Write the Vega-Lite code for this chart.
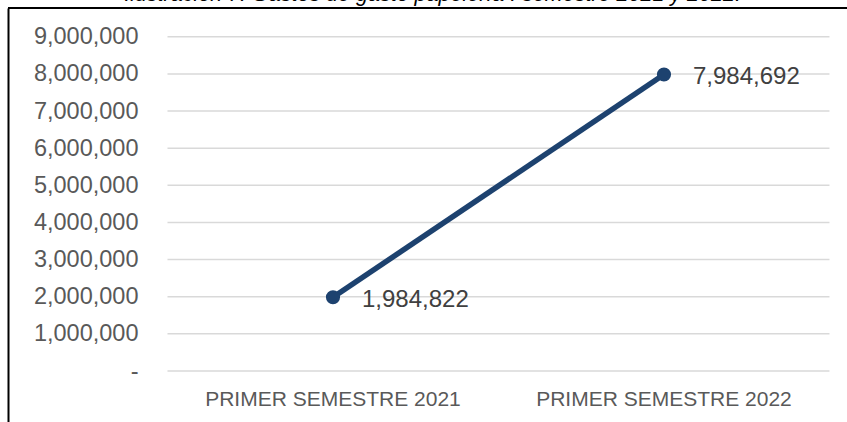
{
  "$schema": "https://vega.github.io/schema/vega-lite/v6.json",
  "width": 839,
  "height": 414,
  "autosize": {"type": "none"},
  "padding": {"left": 8, "top": 8, "right": 0, "bottom": 0},
  "background": "white",
  "title": {
    "text": "Ilustración 7. Gastos de gasto papelería I semestre 2021 y 2022.",
    "font": "Liberation Sans",
    "fontSize": 21.5,
    "fontStyle": "italic",
    "fontWeight": "normal",
    "color": "#000000",
    "anchor": "middle",
    "baseline": "alphabetic",
    "offset": 0,
    "dy": 15,
    "dx": 5
  },
  "config": {"view": {"stroke": null}, "font": "Liberation Sans"},
  "layer": [
    {
      "data": {"values": [
        {"v": 0, "a": "PRIMER SEMESTRE 2021", "b": "PRIMER SEMESTRE 2022"},
        {"v": 1000000, "a": "PRIMER SEMESTRE 2021", "b": "PRIMER SEMESTRE 2022"},
        {"v": 2000000, "a": "PRIMER SEMESTRE 2021", "b": "PRIMER SEMESTRE 2022"},
        {"v": 3000000, "a": "PRIMER SEMESTRE 2021", "b": "PRIMER SEMESTRE 2022"},
        {"v": 4000000, "a": "PRIMER SEMESTRE 2021", "b": "PRIMER SEMESTRE 2022"},
        {"v": 5000000, "a": "PRIMER SEMESTRE 2021", "b": "PRIMER SEMESTRE 2022"},
        {"v": 6000000, "a": "PRIMER SEMESTRE 2021", "b": "PRIMER SEMESTRE 2022"},
        {"v": 7000000, "a": "PRIMER SEMESTRE 2021", "b": "PRIMER SEMESTRE 2022"},
        {"v": 8000000, "a": "PRIMER SEMESTRE 2021", "b": "PRIMER SEMESTRE 2022"},
        {"v": 9000000, "a": "PRIMER SEMESTRE 2021", "b": "PRIMER SEMESTRE 2022"}
      ]},
      "mark": {"type": "rule", "color": "#d9d9d9", "strokeWidth": 1.5},
      "encoding": {
        "x": {"field": "a", "type": "nominal", "bandPosition": 0},
        "x2": {"field": "b", "bandPosition": 1},
        "y": {
          "field": "v",
          "type": "quantitative",
          "scale": {"domain": [-1373000, 9774000], "nice": false, "zero": false},
          "axis": {
            "values": [0, 1000000, 2000000, 3000000, 4000000, 5000000, 6000000, 7000000, 8000000, 9000000],
            "labelExpr": "datum.value == 0 ? '-' : format(datum.value, ',')",
            "domain": true,
            "domainColor": "#000000",
            "domainWidth": 2,
            "ticks": false,
            "grid": false,
            "labelPadding": -130,
            "labelFontSize": 23.5,
            "labelColor": "#595959",
            "labelAlign": "right",
            "labelBaseline": "middle",
            "title": null
          }
        }
      }
    },
    {
      "data": {"values": [{"top": 9774000}]},
      "mark": {"type": "rule", "color": "#000000", "strokeWidth": 2},
      "encoding": {"y": {"field": "top", "type": "quantitative"}}
    },
    {
      "data": {"values": [
        {"periodo": "PRIMER SEMESTRE 2021", "v": 1984822},
        {"periodo": "PRIMER SEMESTRE 2022", "v": 7984692}
      ]},
      "encoding": {
        "x": {
          "field": "periodo",
          "type": "nominal",
          "sort": null,
          "scale": {"paddingInner": 0, "paddingOuter": 0.2674, "align": 0.901},
          "axis": {
            "title": null,
            "domain": false,
            "ticks": false,
            "labelAngle": 0,
            "labelAlign": "center",
            "labelLimit": 0,
            "labelFont": "Liberation Sans",
            "labelFontSize": 21,
            "labelColor": "#595959",
            "labelBaseline": "alphabetic",
            "labelPadding": -17
          }
        },
        "y": {"field": "v", "type": "quantitative"}
      },
      "layer": [
        {"mark": {"type": "line", "color": "#1d426f", "strokeWidth": 5.5}},
        {"mark": {"type": "point", "filled": true, "opacity": 1, "color": "#1d426f", "size": 200}},
        {
          "mark": {"type": "text", "align": "left", "baseline": "middle", "dx": 29, "dy": 3, "fontSize": 24, "color": "#404040"},
          "encoding": {"text": {"field": "v", "type": "quantitative", "format": ","}}
        }
      ]
    }
  ]
}
